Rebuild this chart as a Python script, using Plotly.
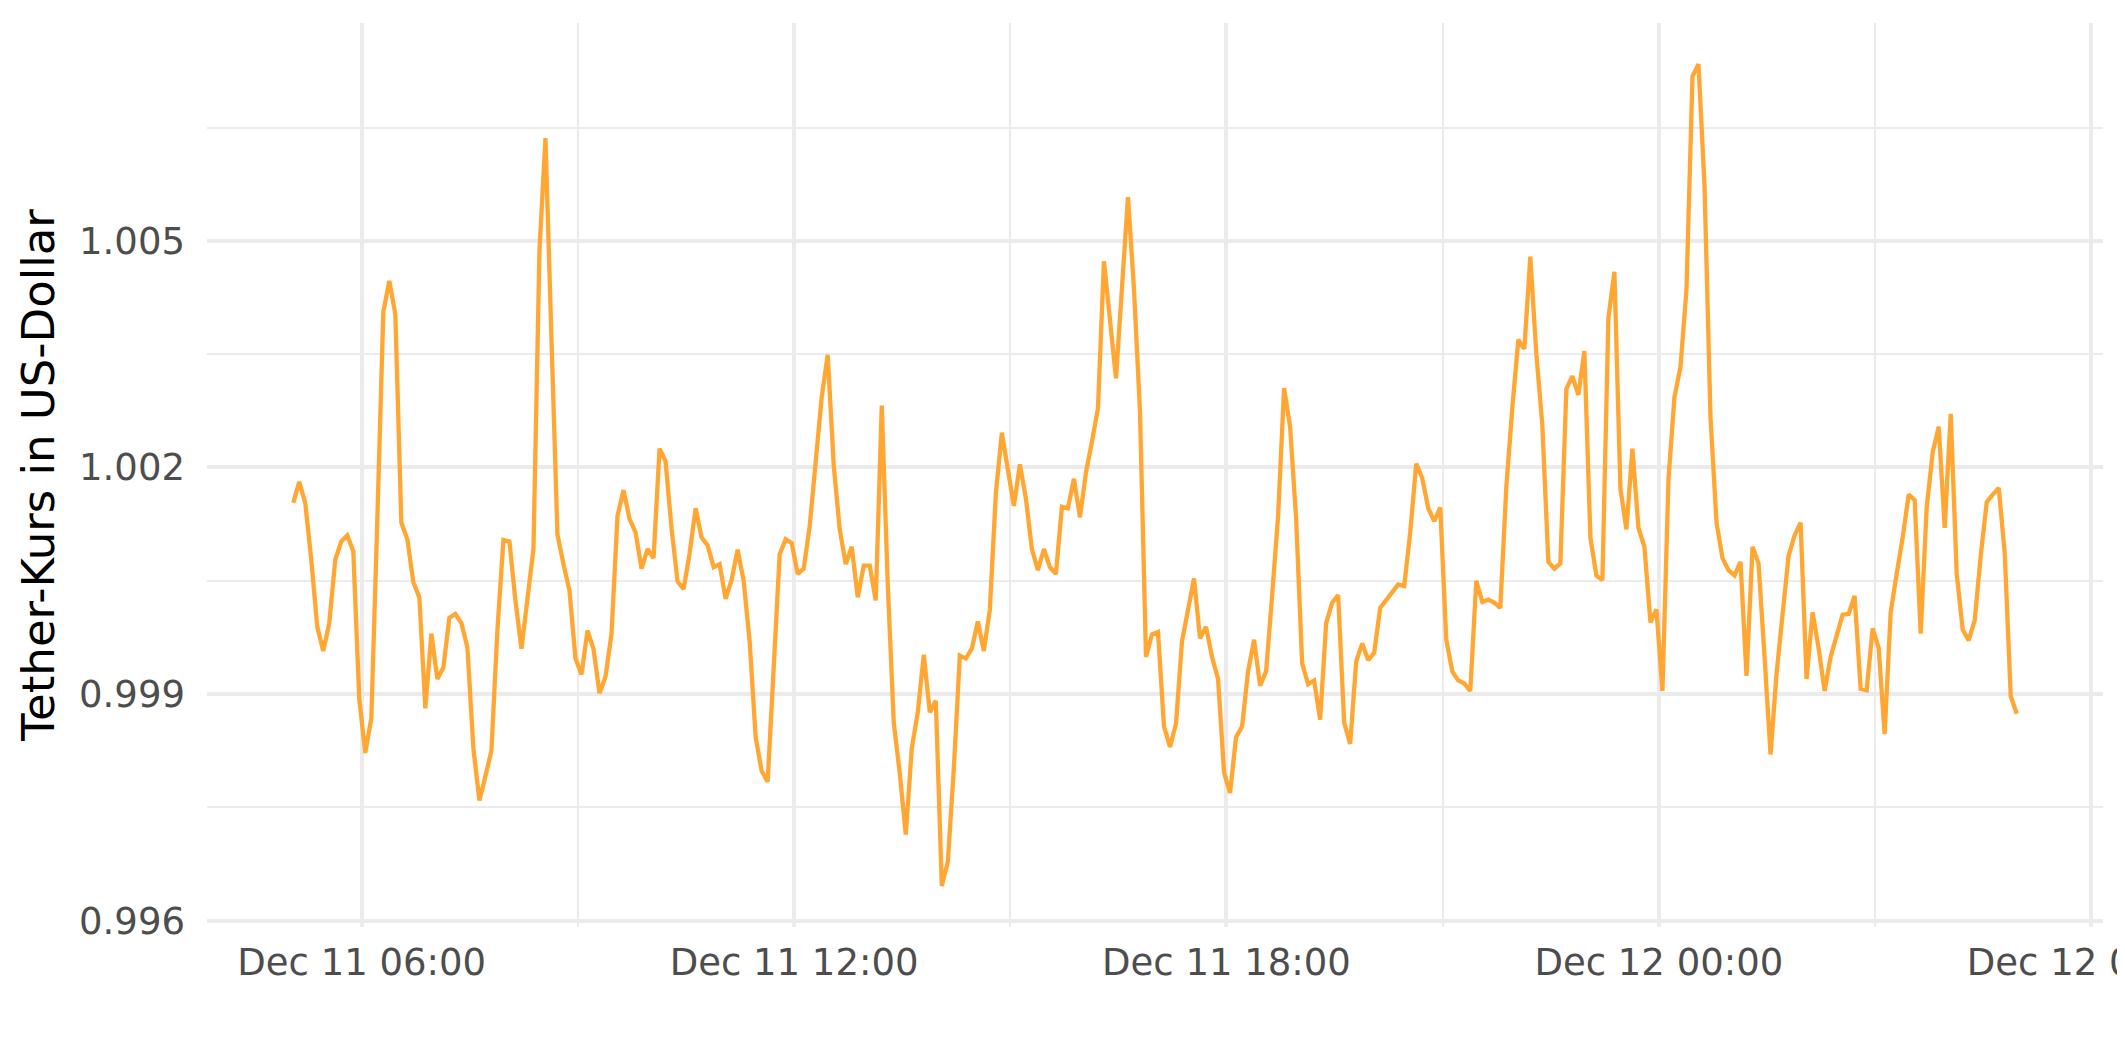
import pandas as pd
import plotly.graph_objects as go

# ---- data (5-minute samples) ----
start_time = "2023-12-11 05:03"
step = "5min"

h05 = [1.00153, 1.00181, 1.00153, 1.00078, 0.99989, 0.99957, 0.99994, 1.00078, 1.00102, 1.00110, 1.00089, 0.99893]
h06 = [0.99822, 0.99868, 1.00130, 1.00406, 1.00447, 1.00403, 1.00127, 1.00105, 1.00048, 1.00028, 0.99881, 0.99980]
h07 = [0.99920, 0.99935, 1.00001, 1.00006, 0.99994, 0.99962, 0.99828, 0.99759, 0.99791, 0.99825, 0.99985, 1.00104]
h08 = [1.00102, 1.00024, 0.99960, 1.00021, 1.00092, 1.00487, 1.00636, 1.00370, 1.00111, 1.00072, 1.00037, 0.99947]
h09 = [0.99926, 0.99984, 0.99960, 0.99901, 0.99923, 0.99980, 1.00136, 1.00170, 1.00132, 1.00114, 1.00066, 1.00092]
h10 = [1.00080, 1.00225, 1.00208, 1.00119, 1.00049, 1.00039, 1.00086, 1.00146, 1.00107, 1.00097, 1.00068, 1.00072]
h11 = [1.00026, 1.00051, 1.00091, 1.00050, 0.99970, 0.99843, 0.99798, 0.99784, 0.99940, 1.00085, 1.00105, 1.00100]
h12 = [1.00059, 1.00066, 1.00122, 1.00214, 1.00293, 1.00349, 1.00203, 1.00118, 1.00072, 1.00095, 1.00028, 1.00070]
h13 = [1.00070, 1.00024, 1.00282, 1.00045, 0.99862, 0.99795, 0.99714, 0.99828, 0.99876, 0.99952, 0.99876, 0.99891]
h14 = [0.99646, 0.99678, 0.99801, 0.99951, 0.99947, 0.99960, 0.99996, 0.99957, 1.00012, 1.00166, 1.00246, 1.00197]
h15 = [1.00149, 1.00204, 1.00159, 1.00092, 1.00064, 1.00092, 1.00068, 1.00059, 1.00148, 1.00146, 1.00185, 1.00134]
h16 = [1.00193, 1.00234, 1.00278, 1.00473, 1.00396, 1.00318, 1.00438, 1.00558, 1.00436, 1.00274, 0.99949, 0.99979]
h17 = [0.99982, 0.99857, 0.99830, 0.99861, 0.99970, 1.00011, 1.00053, 0.99974, 0.99989, 0.99949, 0.99920, 0.99796]
h18 = [0.99769, 0.99843, 0.99857, 0.99930, 0.99972, 0.99911, 0.99930, 1.00030, 1.00136, 1.00305, 1.00254, 1.00132]
h19 = [0.99941, 0.99913, 0.99918, 0.99866, 0.99994, 1.00021, 1.00031, 0.99862, 0.99834, 0.99943, 0.99967, 0.99945]
h20 = [0.99955, 1.00014, 1.00024, 1.00034, 1.00045, 1.00043, 1.00114, 1.00205, 1.00186, 1.00146, 1.00129, 1.00147]
h21 = [0.99972, 0.99930, 0.99918, 0.99914, 0.99904, 1.00050, 1.00022, 1.00025, 1.00021, 1.00014, 1.00174, 1.00279]
h22 = [1.00369, 1.00357, 1.00479, 1.00350, 1.00256, 1.00075, 1.00066, 1.00073, 1.00304, 1.00321, 1.00296, 1.00354]
h23 = [1.00107, 1.00057, 1.00051, 1.00398, 1.00459, 1.00172, 1.00118, 1.00225, 1.00120, 1.00095, 0.99995, 1.00012]
h00 = [0.99904, 1.00184, 1.00293, 1.00333, 1.00435, 1.00718, 1.00734, 1.00574, 1.00267, 1.00127, 1.00080, 1.00064]
h01 = [1.00057, 1.00075, 0.99924, 1.00095, 1.00073, 0.99950, 0.99820, 0.99927, 1.00008, 1.00083, 1.00110, 1.00127]
h02 = [0.99920, 1.00008, 0.99961, 0.99904, 0.99949, 0.99978, 1.00005, 1.00006, 1.00030, 0.99907, 0.99905, 0.99987]
h03 = [0.99961, 0.99847, 1.00008, 1.00059, 1.00107, 1.00164, 1.00157, 0.99980, 1.00147, 1.00220, 1.00254, 1.00120]
h04 = [1.00271, 1.00059, 0.99985, 0.99971, 0.99998, 1.00083, 1.00154, 1.00164, 1.00173, 1.00086, 0.99897, 0.99874]

price = (h05 + h06 + h07 + h08 + h09 + h10 + h11 + h12 + h13 + h14 + h15 + h16 +
         h17 + h18 + h19 + h20 + h21 + h22 + h23 + h00 + h01 + h02 + h03 + h04)
times = pd.date_range(start=start_time, periods=len(price), freq=step)

y_title = "Tether-Kurs in US-Dollar"
y_ticks = [0.996, 0.999, 1.002, 1.005]

# ---- styling ----
LINE_COLOR = "#ffa633"
GRID = "#ebebeb"
FONT = "DejaVu Sans"

fig = go.Figure()
fig.add_trace(go.Scatter(
    x=times, y=price, mode="lines",
    line=dict(color=LINE_COLOR, width=4.3),
    showlegend=False, hoverinfo="x+y",
))

# the page body adds an 8 px offset, so the figure is 8 px smaller here
fig.update_layout(
    width=2117, height=1054,
    paper_bgcolor="white", plot_bgcolor="white",
    margin=dict(l=198.5, r=22, t=15.3, b=135.2, autoexpand=False),
    font=dict(family=FONT, color="#4d4d4d", size=37),
)

fig.update_xaxes(
    type="date",
    range=["2023-12-11 03:51:12", "2023-12-12 06:09:48"],
    tick0="2023-12-11 00:00", dtick=6 * 3600 * 1000,
    tickformat="%b %d %H:%M",
    showgrid=True, gridcolor=GRID, gridwidth=4.4,
    minor=dict(tick0="2023-12-11 00:00", dtick=3 * 3600 * 1000,
               showgrid=True, gridcolor=GRID, gridwidth=2.2),
    zeroline=False, showline=False, ticks="",
    tickfont=dict(family=FONT, size=37, color="#4d4d4d"),
    ticklabelstandoff=10,
    ticklabeloverflow="allow",
    automargin=False,
)

fig.update_yaxes(
    range=[0.995916, 1.007884],
    tickmode="array", tickvals=y_ticks,
    ticktext=[f"{v:.3f}" for v in y_ticks],
    showgrid=True, gridcolor=GRID, gridwidth=4.4,
    minor=dict(tick0=0.996, dtick=0.0015, showgrid=True,
               gridcolor=GRID, gridwidth=2.2),
    zeroline=False, showline=False, ticks="",
    tickfont=dict(family=FONT, size=37, color="#4d4d4d"),
    ticklabelstandoff=21,
    title=dict(text=y_title, font=dict(family=FONT, size=45, color="black"),
               standoff=10),
    automargin=False,
)

fig.write_html("out.html")
